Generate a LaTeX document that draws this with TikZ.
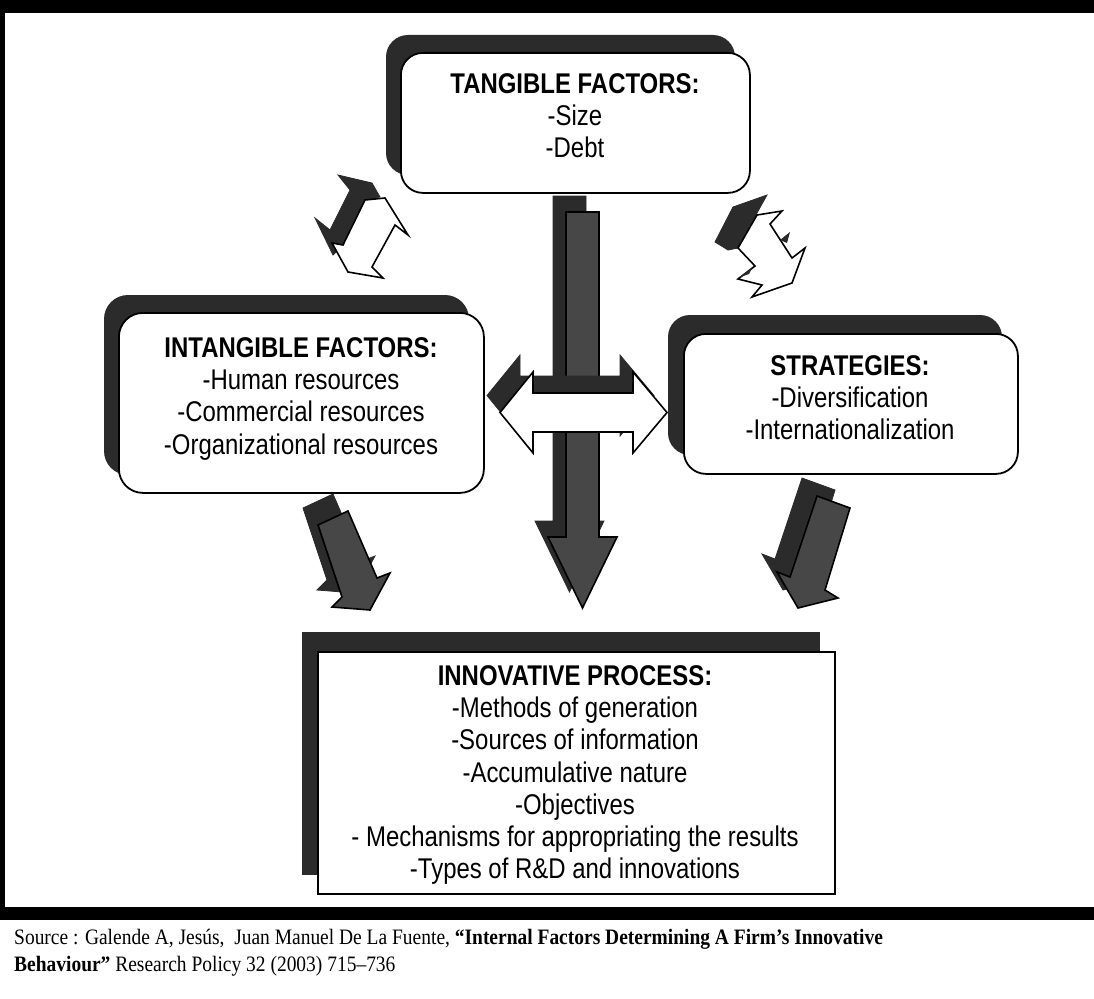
\documentclass[tikz,border=0pt]{standalone}
\usepackage{fontspec}
\newfontfamily\hn[FakeStretch=0.84]{Liberation Sans}
\newfontfamily\tn[FakeStretch=0.885]{Liberation Serif}
\definecolor{shd}{HTML}{2B2B2B}
\definecolor{arr}{HTML}{474747}
\tikzset{
  shadowbox/.style={fill=shd, draw=none},
  whitebox/.style={fill=white, draw=black, line width=1.8pt},
  lbl/.style={font=\hn\fontsize{28.5}{32.3}\selectfont, align=center, inner sep=0pt, anchor=north},
  grayarrow/.style={fill=arr, draw=black, line width=1.6pt, line join=miter},
  darkarrow/.style={fill=shd, draw=shd, line width=0.8pt, line join=miter},
  whitearrow/.style={fill=white, draw=black, line width=1.6pt, line join=miter},
  frame/.style={fill=black, draw=none},
  caption/.style={font=\tn\fontsize{22}{28}\selectfont, inner sep=0pt, anchor=base west}
}
\begin{document}
\begin{tikzpicture}[x=1pt,y=-1pt]
\useasboundingbox (0,0) rectangle (1094,998);
\fill[white] (0,0) rectangle (1094,998);
% frame
\fill[frame] (0,0) rectangle (1094,13);
\fill[frame] (0,0) rectangle (5,920);
\fill[frame] (0,907) rectangle (1094,920);

% ---- central arrow (behind)
\fill[darkarrow, shift={(-13,-16)}] (566,212) -- (599,212) -- (599,537) -- (617,537) -- (582.5,608) -- (548,537) -- (566,537) -- cycle;
\filldraw[grayarrow] (566,212) -- (599,212) -- (599,537) -- (617,537) -- (582.5,608) -- (548,537) -- (566,537) -- cycle;

% ---- horizontal double arrow
\filldraw[darkarrow, shift={(-13,-17)}] (500,412.5) -- (533,372) -- (533,393) -- (633,393) -- (633,372) -- (667,412.5) -- (633,453) -- (633,432) -- (533,432) -- (533,453) -- cycle;
\filldraw[whitearrow] (500,412.5) -- (533,372) -- (533,393) -- (633,393) -- (633,372) -- (667,412.5) -- (633,453) -- (633,432) -- (533,432) -- (533,453) -- cycle;

% ---- boxes
\fill[shadowbox, rounded corners=22pt] (386,35) rectangle (735,175);
\node[whitebox, rounded corners=22pt, minimum width=349pt, minimum height=140pt, anchor=north west] (tang) at (400,52) {};
\node[lbl] (tangtxt) at (575,73) {\bfseries TANGIBLE FACTORS:\\-Size\\-Debt};

\fill[shadowbox, rounded corners=24pt] (104,295) rectangle (469,475);
\node[whitebox, rounded corners=24pt, minimum width=365pt, minimum height=180pt, anchor=north west] (intang) at (118,312) {};
\node[lbl] (intangtxt) at (301,337) {\bfseries INTANGIBLE FACTORS:\\-Human resources\\-Commercial resources\\-Organizational resources};

\fill[shadowbox, rounded corners=22pt] (668,315) rectangle (1002,455);
\node[whitebox, rounded corners=22pt, minimum width=334pt, minimum height=140pt, anchor=north west] (strat) at (683,333) {};
\node[lbl] (strattxt) at (850,355) {\bfseries STRATEGIES:\\-Diversification\\-Internationalization};

% ---- arrow A (intangible <-> tangible)
\filldraw[darkarrow] (338,175) -- (372,183) -- (380,197) -- (365,200) -- (343,245) -- (333,255) -- (315,218) -- (330,230) -- (350,190) -- cycle;
\filldraw[whitearrow] (365,200) -- (385,198) -- (408,235) -- (395,225) -- (372,267) -- (383,278) -- (348,272) -- (332,243) -- (343,245) -- cycle;

% ---- arrow B (tangible <-> strategies)
\filldraw[darkarrow] (715,242) -- (733,207) -- (767,195) -- (757,213) -- (738,248) -- (728,250) -- cycle;
\filldraw[whitearrow] (738,248) -- (757,215) -- (782,211) -- (770,224) -- (792,258) -- (805,248) -- (792,283) -- (752,297) -- (762,285) -- (738,279) -- (755,266) -- cycle;
\fill[shd] (780,240) -- (790,232) -- (787,243) -- cycle;
\fill[shd] (738,278) -- (752,268) -- (749,274) -- cycle;

% ---- arrow C (intangible -> innovative)
\filldraw[darkarrow, shift={(-15,-17)}] (318,525) -- (348,511) -- (377,578) -- (390,573) -- (370,610) -- (332,607) -- (342,597) -- cycle;
\filldraw[grayarrow] (318,525) -- (348,511) -- (377,578) -- (390,573) -- (370,610) -- (332,607) -- (342,597) -- cycle;

% ---- arrow D (strategies -> innovative)
\filldraw[darkarrow, shift={(-15,-18)}] (817,496) -- (850,508) -- (825,590) -- (838,598) -- (798,608) -- (777,572) -- (790,577) -- cycle;
\filldraw[grayarrow] (817,496) -- (850,508) -- (825,590) -- (838,598) -- (798,608) -- (777,572) -- (790,577) -- cycle;

% ---- innovative process box
\fill[shadowbox] (302,632) rectangle (820,875);
\node[whitebox, minimum width=517pt, minimum height=242pt, anchor=north west] (innov) at (317,651) {};
\node[lbl] (innovtxt) at (575,665) {\bfseries INNOVATIVE PROCESS:\\-Methods of generation\\-Sources of information\\-Accumulative nature\\-Objectives\\- Mechanisms for appropriating the results\\-Types of R\&D and innovations};

% ---- caption
\node[caption] (cap1) at (14,944) {Source : Galende A, Jesús,\ \ Juan Manuel De La Fuente, \textbf{“Internal Factors Determining A Firm’s Innovative}};
\node[caption] (cap2) at (14,971) {\textbf{Behaviour”} Research Policy 32 (2003) 715–736};
\end{tikzpicture}
\end{document}
